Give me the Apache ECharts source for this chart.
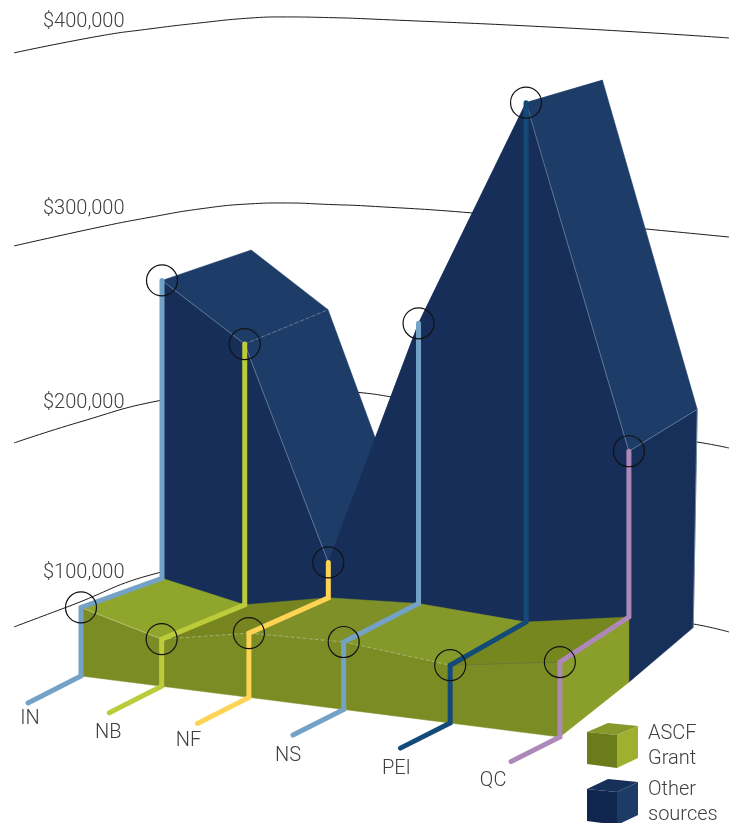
<!DOCTYPE html>
<html>
<head>
<meta charset="utf-8">
<style>html,body{margin:0;padding:0;background:#fff}#chart{width:732px;height:823px}</style>
<script src="https://cdn.jsdelivr.net/npm/echarts@6/dist/echarts.min.js"></script>
</head>
<body>
<div id="chart"></div>
<script>
// Funding by province
const categories = ['IN', 'NB', 'NF', 'NS', 'PEI', 'QC'];
const ascfGrant = [92000, 82000, 90000, 91500, 87000, 95000];
const otherSources = [252000, 222000, 109000, 242000, 366000, 184000];
const tickValues = [400000, 300000, 200000, 100000];
const tickLabels = ['$400,000', '$300,000', '$200,000', '$100,000'];

// Curved value lines across the back wall: [along-axis position, dollars]
const line400 = [[14, 380600], [100, 389700], [150, 393500], [200, 396700], [250, 399300], [283, 399900], [333, 399500], [366, 398900], [566, 394000], [729, 388600]];
const line300 = [[14, 276900], [100, 287100], [150, 292300], [200, 296800], [250, 299500], [283, 300000], [333, 299100], [366, 298400], [473, 294600], [646, 286000], [729, 281700]];
const line200 = [[14, 171100], [80, 182400], [158, 193700], [267, 202300], [363, 198000], [392, 195800], [697, 171600], [729, 168400]];
const line100 = [[14, 72300], [67, 83000], [158, 101300], [267, 111000], [693, 73900], [729, 69600]];

// Axis layout
const FONT = '300 20px Roboto, "Liberation Sans", Arial, sans-serif';
const TEXT = '#3f3f3f';
const floorValue = 60000;
const tickLabelHeights = [397000, 297000, 192600, 101300];
const categoryColors = ['#74a2c6', '#bccb39', '#ffd454', '#74a2c6', '#134a78', '#ae88b9'];
const labelNudges = [[2, 16], [-1, 20], [-9, 18], [-5, 21], [-4, 21], [-18, 19]];

// Perspective rows running front to back: each one is a projective line on the floor
const rows = {
  leader: { g: -0.038, xStart: 28, xRate: 77.2, yStart: 31500, yRate: -6300, rise: 0, lean: 0, stops: [0, 1, 2, 3, 4.03, 5] },
  front: { g: -0.038, xStart: 81, xRate: 74.5, yStart: 45970, yRate: -7060, rise: 1.15, lean: 0, stops: [0, 1, 2, 3, 4.03, 5] },
  middle: { g: -0.034, xStart: 162, xRate: 72, yStart: 66400, yRate: -6200, rise: 1, lean: 0, stops: [0, 1.03, 2, 2.975, 4.05, 5] },
  rear: { g: -0.038, xStart: 245, xRate: 63.3, yStart: 93300, yRate: -7000, rise: 0.945, lean: 0.0000342, stops: [0, 1.03, 2, 3, 4.05, 5] }
};

function project(api, i, rowName, value) {
  const row = rows[rowName];
  const u = row.stops[i];
  const w = 1 + row.g * u;
  const elevation = (value - floorValue) * row.rise;
  return api.coord([
    (row.xStart + row.xRate * u) / w + row.lean * elevation,
    (row.yStart + row.yRate * u) / w + elevation
  ]);
}

function face(points, fill, z2) {
  return {
    type: 'polygon',
    z2: z2 || 0,
    shape: { points: points },
    style: { fill: fill, stroke: fill, lineWidth: 0.5 }
  };
}

function edge(from, to, color, dashed) {
  return {
    type: 'line',
    z2: 5,
    shape: { x1: from[0], y1: from[1], x2: to[0], y2: to[1] },
    style: { stroke: color, lineWidth: 0.8, lineDash: dashed ? [4, 2] : null, fill: null }
  };
}

const indices = categories.map((_, i) => i);
const grantFacetColors = ['#90a52b', '#76851f', '#7e9027', '#85992a', '#77871f'];

function gridline(name, data) {
  return {
    name: name,
    type: 'line',
    data: data,
    smooth: 0.5,
    showSymbol: false,
    silent: true,
    z: 1,
    lineStyle: { color: '#1c1c1c', width: 1 }
  };
}

const option = {
  animation: false,
  backgroundColor: '#fff',
  grid: { left: 0, right: 0, top: 0, bottom: 0 },
  xAxis: { type: 'value', min: 0, max: 732, show: false },
  yAxis: { type: 'value', min: -33000, max: 409000, show: false },
  series: [
    gridline('$400,000', line400),
    gridline('$300,000', line300),
    gridline('$200,000', line200),
    gridline('$100,000', line100),
    {
      // Value labels on the left of the back wall
      name: 'Value labels',
      type: 'custom',
      coordinateSystem: 'cartesian2d',
      z: 2,
      silent: true,
      clip: false,
      data: tickValues.map((v, i) => [43, tickLabelHeights[i]]),
      renderItem(params, api) {
        const p = api.coord([api.value(0), api.value(1)]);
        return {
          type: 'text',
          style: {
            text: tickLabels[params.dataIndex], x: p[0], y: p[1],
            fill: TEXT, font: FONT, align: 'left', verticalAlign: 'middle'
          }
        };
      }
    },
    {
      // Other sources: upper surface, one facet per pair of neighbours
      name: 'Other sources',
      type: 'custom',
      coordinateSystem: 'cartesian2d',
      z: 3,
      silent: true,
      clip: false,
      data: indices.slice(0, -1).map(i => [i, otherSources[i], otherSources[i + 1]]),
      renderItem(params, api) {
        const i = api.value(0);
        const a = api.value(1);
        const b = api.value(2);
        return face([
          project(api, i, 'middle', a),
          project(api, i + 1, 'middle', b),
          project(api, i + 1, 'rear', b),
          project(api, i, 'rear', a)
        ], '#1d3c68');
      }
    },
    {
      // Other sources: front wall, end wall and the fine ridge lines
      name: 'Other sources front',
      type: 'custom',
      coordinateSystem: 'cartesian2d',
      z: 4,
      silent: true,
      clip: false,
      data: [otherSources],
      renderItem(params, api) {
        const last = categories.length - 1;
        const tops = indices.map(i => project(api, i, 'middle', otherSources[i]));
        const floors = indices.map(i => project(api, i, 'middle', floorValue)).reverse();
        const rearTop = project(api, last, 'rear', otherSources[last]);
        const rearFloor = project(api, last, 'rear', floorValue);
        const ridge = '#6f84a3';
        return {
          type: 'group',
          children: [
            face(tops.concat(floors), '#172f58'),
            face([tops[last], rearTop, rearFloor, floors[0]], '#17305a'),
            edge(tops[0], tops[1], ridge),
            edge(tops[1], tops[2], ridge),
            edge(tops[1], project(api, 1, 'rear', otherSources[1]), ridge, true),
            edge(tops[4], tops[5], ridge),
            edge(tops[5], rearTop, ridge),
            edge(rearTop, rearFloor, '#8193ac')
          ]
        };
      }
    },
    {
      // ASCF Grant: front wall, top facets and end wall
      name: 'ASCF Grant',
      type: 'custom',
      coordinateSystem: 'cartesian2d',
      z: 5,
      silent: true,
      clip: false,
      data: [ascfGrant],
      renderItem(params, api) {
        const last = categories.length - 1;
        const tops = indices.map(i => project(api, i, 'front', ascfGrant[i]));
        const backs = indices.map(i => project(api, i, 'middle', ascfGrant[i]));
        const floors = indices.map(i => project(api, i, 'front', floorValue));
        const children = [face(tops.concat(floors.slice().reverse()), '#7c8c25')];
        indices.slice(0, -1).forEach(i => {
          children.push(face([tops[i], tops[i + 1], backs[i + 1], backs[i]], grantFacetColors[i]));
        });
        children.push(face([tops[last], backs[last], project(api, last, 'middle', floorValue), floors[last]], '#8a9e2a'));
        children.push(edge(tops[0], tops[1], '#b9c67c'));
        children.push(edge(tops[1], tops[2], '#b3bf7e', true));
        children.push(edge(tops[2], tops[3], '#b3bf7e', true));
        children.push(edge(tops[3], tops[4], '#b3bf7e', true));
        children.push(edge(tops[4], tops[5], '#6a7a3a'));
        return { type: 'group', children: children };
      }
    },
    {
      // Province leaders: from the label, up the grant wall, back across the top, up the other wall
      name: 'Provinces',
      type: 'custom',
      coordinateSystem: 'cartesian2d',
      z: 6,
      silent: true,
      clip: false,
      data: categories.map((c, i) => [i, ascfGrant[i], otherSources[i]]),
      renderItem(params, api) {
        const i = api.value(0);
        const grant = api.value(1);
        const other = api.value(2);
        const start = project(api, i, 'leader', floorValue);
        const floor = project(api, i, 'front', floorValue);
        const top = project(api, i, 'front', grant);
        const back = project(api, i, 'middle', grant);
        const peak = project(api, i, 'middle', other);
        const nudge = labelNudges[i];
        const ring = p => ({
          type: 'circle',
          z2: 12,
          shape: { cx: p[0], cy: p[1], r: 15.5 },
          style: { fill: null, stroke: '#111', lineWidth: 1.2 }
        });
        return {
          type: 'group',
          children: [
            {
              type: 'polyline',
              z2: 10,
              shape: { points: [start, floor, top, back, peak] },
              style: { stroke: categoryColors[i], lineWidth: 5, fill: null, lineCap: 'round', lineJoin: 'miter' }
            },
            ring(top),
            ring(peak),
            {
              type: 'text',
              z2: 12,
              style: {
                text: categories[i], x: start[0] + nudge[0], y: start[1] + nudge[1],
                fill: TEXT, font: FONT, align: 'center', verticalAlign: 'middle'
              }
            }
          ]
        };
      }
    }
  ],
  // Legend keys drawn as small cubes
  graphic: [
    { type: 'polygon', shape: { points: [[587, 732], [608, 723], [638, 726], [617, 735]] }, style: { fill: '#86992a' } },
    { type: 'polygon', shape: { points: [[587, 732], [617, 735], [617, 768], [587, 764]] }, style: { fill: '#6c7c1c' } },
    { type: 'polygon', shape: { points: [[617, 735], [638, 726], [638, 758], [617, 768]] }, style: { fill: '#9eb02e' } },
    { type: 'polygon', shape: { points: [[587, 789], [608, 779], [638, 782], [617, 792]] }, style: { fill: '#17305a' } },
    { type: 'polygon', shape: { points: [[587, 789], [617, 792], [617, 825], [587, 821]] }, style: { fill: '#10264e' } },
    { type: 'polygon', shape: { points: [[617, 792], [638, 782], [638, 815], [617, 825]] }, style: { fill: '#1c3b66' } },
    { type: 'text', style: { text: 'ASCF\nGrant', x: 648, y: 746.5, fill: TEXT, font: FONT, lineHeight: 24.5, verticalAlign: 'middle' } },
    { type: 'text', style: { text: 'Other\nsources', x: 648, y: 802.5, fill: TEXT, font: FONT, lineHeight: 24.5, verticalAlign: 'middle' } }
  ]
};

echarts.init(document.getElementById('chart'), null, { renderer: 'canvas' }).setOption(option);
</script>
</body>
</html>
